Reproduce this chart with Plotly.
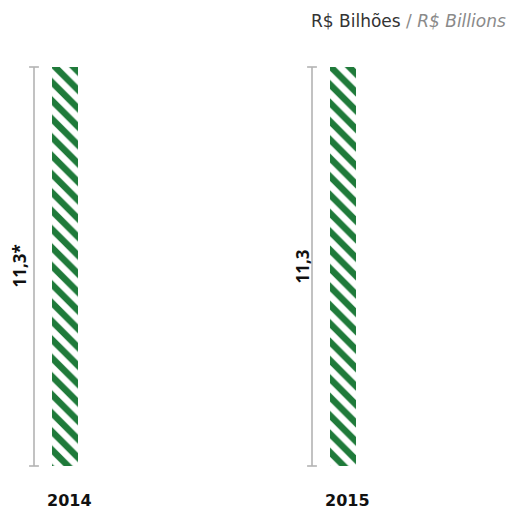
import plotly.graph_objects as go

# Data
years = ["2014", "2015"]
values = [11.3, 11.3]
value_labels = ["11,3*", "11,3"]

GREEN = "#1f7a3a"
GREY = "#b3b3b3"
FONT = "Open Sans, sans-serif"

PX = 1 / 278.0          # x-axis units per pixel
xpos = list(range(len(years)))
bar_w = 26 * PX
whisker_off = -31 * PX
label_offs = [-46 * PX, -41 * PX]

fig = go.Figure()

# Hatched bars
fig.add_trace(go.Bar(
    x=xpos, y=values, width=bar_w,
    marker=dict(
        color="white",
        opacity=1,
        line=dict(width=0),
        pattern=dict(shape="\\", fgcolor=GREEN, fgopacity=1,
                     size=13, solidity=0.5, fillmode="replace"),
    ),
    hoverinfo="skip", showlegend=False,
))

# Grey range line beside each bar
for x, v in zip(xpos, values):
    fig.add_trace(go.Scatter(
        x=[x + whisker_off, x + whisker_off], y=[0, v],
        mode="lines+markers",
        line=dict(color=GREY, width=1.6),
        marker=dict(symbol="line-ew", size=7, line=dict(color=GREY, width=1.6)),
        hoverinfo="skip", showlegend=False, cliponaxis=False,
    ))

annotations = []
for x, v, lab, yr, off in zip(xpos, values, value_labels, years, label_offs):
    annotations.append(dict(
        x=x + off, y=v / 2, xref="x", yref="y", text=lab,
        textangle=-90, showarrow=False,
        font=dict(family=FONT, size=17, color="#111111", weight="bold"),
    ))
    annotations.append(dict(
        x=x, y=0, xref="x", yref="y", text=yr, showarrow=False,
        xshift=4, yshift=-34, yanchor="middle",
        font=dict(family="DejaVu Sans, sans-serif", size=16, color="#111111",
                  weight="bold"),
    ))

annotations.append(dict(
    x=1, y=1, xref="paper", yref="paper", xanchor="right", yanchor="middle",
    xshift=-7, yshift=67 - 21, showarrow=False,
    text="R$ Bilhões <span style='color:#8a8a8a'>/ <i>R$ Billions</i></span>",
    font=dict(family="DejaVu Sans, sans-serif", size=17, color="#333333"),
))

fig.update_layout(
    width=515, height=510,
    margin=dict(l=0, r=0, t=67, b=44),
    paper_bgcolor="white", plot_bgcolor="white",
    xaxis=dict(range=[-65 * PX, 450 * PX], visible=False, fixedrange=True),
    yaxis=dict(range=[0, 11.3], visible=False, fixedrange=True),
    annotations=annotations,
    bargap=0,
)

fig.write_html("out.html")
